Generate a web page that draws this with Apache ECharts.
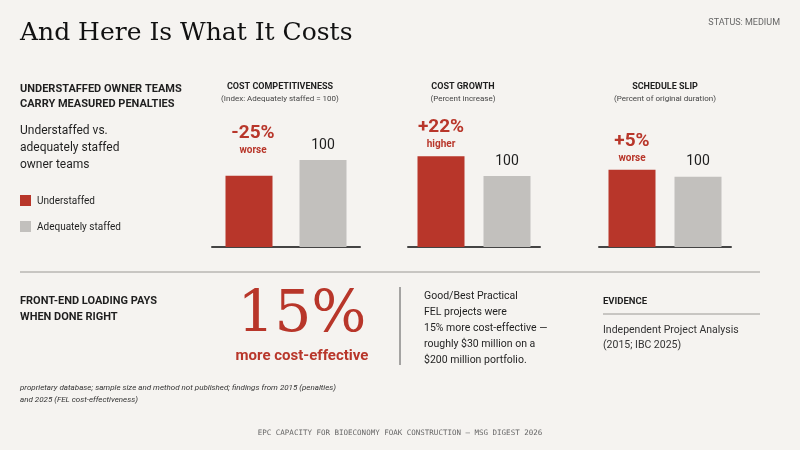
<!DOCTYPE html>
<html lang="en">
<head>
<meta charset="utf-8">
<script src="https://cdn.jsdelivr.net/npm/echarts@6/dist/echarts.min.js"></script>
<style>
  html, body { margin: 0; padding: 0; background: #f5f3f0; }
  #main { width: 800px; height: 450px; }
</style>
</head>
<body>
<div id="main"></div>
<script>
// values as drawn (gray = 100 index)
var categories = ['Understaffed', 'Adequately staffed'];
var competitiveness = [82, 100];
var costGrowth = [128, 100];
var scheduleSlip = [110, 100];
var panelTitles = ['COST COMPETITIVENESS', 'COST GROWTH', 'SCHEDULE SLIP'];
var panelSubs = ['(Index: Adequately staffed = 100)', '(Percent increase)', '(Percent of original duration)'];
var deltas = ['-25%', '+22%', '+5%'];
var deltaWords = ['worse', 'higher', 'worse'];

var RED = '#b8362a', GRAY = '#c2c0bd', INK = '#1f1f1f';
var panels = [
  { data: competitiveness, left: 212, width: 148, max: 146, dx: 253, dy: 133, tx: 280 },
  { data: costGrowth, left: 408, width: 132, max: 179, dx: 441, dy: 127, tx: 463 },
  { data: scheduleSlip, left: 599, width: 132, max: 181, dx: 632, dy: 141, tx: 665 }
];

var grids = [], xAxes = [], yAxes = [], series = [], graphic = [];
panels.forEach(function (p, i) {
  grids.push({ left: p.left, width: p.width, top: 120, bottom: 203 });
  xAxes.push({ type: 'category', gridIndex: i, data: categories,
    axisLine: { lineStyle: { color: '#444', width: 2 } }, axisTick: { show: false }, axisLabel: { show: false } });
  yAxes.push({ type: 'value', gridIndex: i, min: 0, max: p.max, show: false, splitLine: { show: false } });
  series.push({ type: 'bar', xAxisIndex: i, yAxisIndex: i, barWidth: 47,
    data: p.data.map(function (v, j) {
      return { value: v, itemStyle: { color: j === 0 ? RED : GRAY },
        label: { show: j === 1, position: 'top', distance: 8, formatter: '100',
          color: INK, fontSize: 14, fontFamily: 'Roboto' } };
    }) });
  graphic.push({ type: 'text', style: { text: panelTitles[i], x: p.tx, y: 82, align: 'center',
    fontSize: 9, fontWeight: 'bold', fill: INK, fontFamily: 'Roboto' } });
  graphic.push({ type: 'text', style: { text: panelSubs[i], x: p.tx, y: 95, align: 'center',
    fontSize: 8, fill: '#444', fontFamily: 'Roboto' } });
  graphic.push({ type: 'text', style: { text: deltas[i], x: p.dx, y: p.dy, align: 'center', verticalAlign: 'middle',
    fontSize: 19, fontWeight: 'bold', fill: RED, fontFamily: 'Roboto' } });
  graphic.push({ type: 'text', style: { text: deltaWords[i], x: p.dx, y: p.dy + 17, align: 'center', verticalAlign: 'middle',
    fontSize: 10, fontWeight: 'bold', fill: RED, fontFamily: 'Roboto' } });
});

function txt(s, x, y, o) {
  var st = { text: s, x: x, y: y, fill: INK, fontFamily: 'Roboto', fontSize: 11 };
  for (var k in o) st[k] = o[k];
  graphic.push({ type: 'text', style: st });
}
function line(x1, y1, x2, y2, c, w) {
  graphic.push({ type: 'line', shape: { x1: x1, y1: y1, x2: x2, y2: y2 }, style: { stroke: c, lineWidth: w || 1 } });
}

txt('And Here Is What It Costs', 20, 21, { fontFamily: 'DejaVu Serif', fontSize: 25, fill: '#111' });
txt('STATUS: MEDIUM', 780, 18, { align: 'right', fontSize: 9, fill: '#666' });
txt('UNDERSTAFFED OWNER TEAMS\nCARRY MEASURED PENALTIES', 20, 82, { fontSize: 11, fontWeight: 'bold', lineHeight: 15 });
txt('Understaffed vs.\nadequately staffed\nowner teams', 20, 122, { fontSize: 12, lineHeight: 17 });
graphic.push({ type: 'rect', shape: { x: 20, y: 195, width: 11, height: 11 }, style: { fill: RED } });
graphic.push({ type: 'rect', shape: { x: 20, y: 221, width: 11, height: 11 }, style: { fill: GRAY } });
txt('Understaffed', 37, 196, { fontSize: 10 });
txt('Adequately staffed', 37, 222, { fontSize: 10 });

line(20, 272, 760, 272, '#9a9894', 1);
txt('FRONT-END LOADING PAYS\nWHEN DONE RIGHT', 20, 293, { fontSize: 11, fontWeight: 'bold', lineHeight: 16 });
txt('15%', 302, 287, { align: 'center', fontFamily: 'DejaVu Serif', fontSize: 58, fill: RED });
txt('more cost-effective', 302, 349, { align: 'center', fontSize: 15, fontWeight: 'bold', fill: RED });
line(400, 287, 400, 365, '#555', 1);
txt('Good/Best Practical\nFEL projects were\n15% more cost-effective \u2014\nroughly $30 million on a\n$200 million portfolio.', 424, 288,
  { fontSize: 10.5, lineHeight: 16 });
txt('EVIDENCE', 603, 297, { fontSize: 9.5, fontWeight: 'bold' });
line(603, 314, 760, 314, '#9a9894', 1);
txt('Independent Project Analysis\n(2015; IBC 2025)', 603, 323, { fontSize: 10.5, lineHeight: 15, fill: '#333' });
txt('proprietary database; sample size and method not published; findings from 2015 (penalties)\nand 2025 (FEL cost-effectiveness)', 20, 382,
  { fontSize: 8, fontStyle: 'italic', lineHeight: 12, fill: '#333' });
txt('EPC CAPACITY FOR BIOECONOMY FOAK CONSTRUCTION \u2014 MSG DIGEST 2026', 400, 429,
  { align: 'center', fontSize: 7.5, fill: '#666', fontFamily: 'DejaVu Sans Mono' });

var chart = echarts.init(document.getElementById('main'));
chart.setOption({
  backgroundColor: '#f5f3f0',
  animation: false,
  grid: grids, xAxis: xAxes, yAxis: yAxes, series: series,
  graphic: graphic
});
</script>
</body>
</html>
